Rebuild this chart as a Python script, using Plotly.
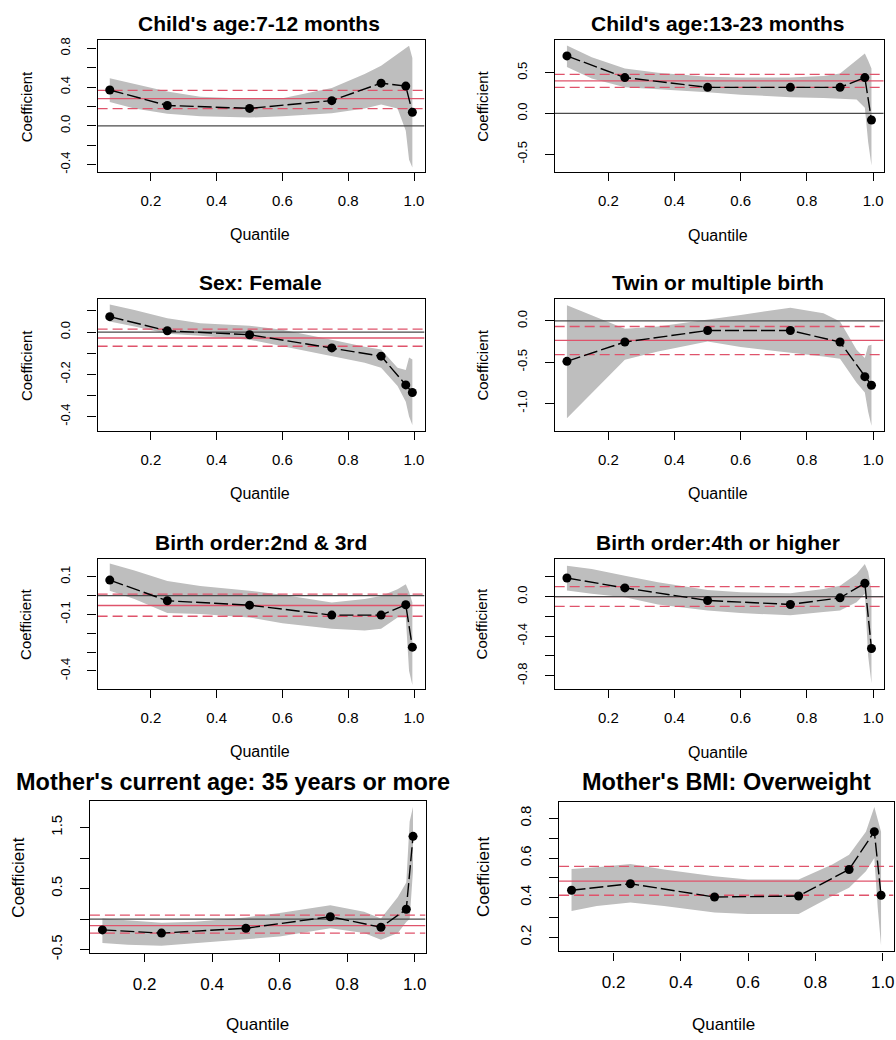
import plotly.graph_objects as go

W, H = 896, 1040
FONT = "Liberation Sans, Arial, sans-serif"

# ---------------- data ----------------
TAUS = [0.075, 0.25, 0.5, 0.75, 0.9, 0.975, 0.995]
BAND_TAUS = [0.075, 0.15, 0.25, 0.35, 0.5, 0.6, 0.75, 0.85, 0.9, 0.95, 0.975, 0.985, 0.995]

TITLES = [
    "Child's age:7-12 months",
    "Child's age:13-23 months",
    "Sex: Female",
    "Twin or multiple birth",
    "Birth order:2nd & 3rd",
    "Birth order:4th or higher",
    "Mother's current age: 35 years or more",
    "Mother's BMI: Overweight",
]

coef_age_7_12 = [0.37, 0.21, 0.18, 0.26, 0.44, 0.41, 0.14]
lo_age_7_12 = [0.245, 0.18, 0.125, 0.10, 0.085, 0.10, 0.13, 0.18, 0.22, 0.18, -0.05, -0.35, -0.43]
hi_age_7_12 = [0.49, 0.43, 0.355, 0.30, 0.28, 0.285, 0.39, 0.535, 0.62, 0.74, 0.80, 0.825, 0.70]
ols_age_7_12 = [0.28, 0.177, 0.365]

coef_age_13_23 = [0.706, 0.44, 0.32, 0.32, 0.32, 0.44, -0.08]
lo_age_13_23 = [0.57, 0.43, 0.32, 0.30, 0.26, 0.23, 0.20, 0.19, 0.18, 0.17, 0.07, -0.35, -0.64]
hi_age_13_23 = [0.835, 0.69, 0.55, 0.50, 0.45, 0.44, 0.44, 0.46, 0.49, 0.65, 0.735, 0.65, 0.55]
ols_age_13_23 = [0.40, 0.32, 0.48]

coef_female = [0.073, 0.006, -0.0125, -0.075, -0.114, -0.25, -0.286]
lo_female = [0.05, 0.027, -0.008, -0.017, -0.036, -0.07, -0.114, -0.145, -0.169, -0.255, -0.33, -0.40, -0.44]
hi_female = [0.13, 0.105, 0.066, 0.042, 0.03, 0.011, -0.036, -0.07, -0.083, -0.169, -0.18, -0.12, -0.13]
ols_female = [-0.028, -0.067, 0.014]

coef_twin = [-0.49, -0.256, -0.116, -0.116, -0.256, -0.676, -0.78]
lo_twin = [-1.18, -0.87, -0.47, -0.37, -0.248, -0.316, -0.388, -0.43, -0.46, -0.748, -0.868, -1.10, -1.27]
hi_twin = [0.19, 0.07, -0.096, -0.068, 0.012, 0.072, 0.16, 0.092, -0.008, -0.348, -0.448, -0.30, -0.29]
ols_twin = [-0.236, -0.408, -0.068]

coef_bo_2_3 = [0.082, -0.028, -0.051, -0.104, -0.104, -0.049, -0.274]
lo_bo_2_3 = [0.025, -0.019, -0.093, -0.098, -0.116, -0.147, -0.177, -0.186, -0.177, -0.116, -0.116, -0.40, -0.475]
hi_bo_2_3 = [0.17, 0.133, 0.077, 0.051, 0.025, 0.004, -0.037, -0.019, -0.002, 0.033, 0.06, 0.02, -0.037]
ols_bo_2_3 = [-0.053, -0.11, 0.007]

coef_bo_4 = [0.187, 0.087, -0.04, -0.08, -0.013, 0.134, -0.525]
lo_bo_4 = [0.06, 0.027, -0.007, -0.08, -0.14, -0.167, -0.19, -0.157, -0.14, -0.057, 0.027, -0.60, -0.876]
hi_bo_4 = [0.31, 0.277, 0.21, 0.144, 0.067, 0.043, 0.033, 0.077, 0.11, 0.227, 0.328, 0.25, 0.06]
ols_bo_4 = [0.0, -0.10, 0.10]

coef_mage_35 = [-0.177, -0.23, -0.15, 0.038, -0.134, 0.16, 1.355]
lo_mage_35 = [-0.39, -0.42, -0.435, -0.39, -0.33, -0.285, -0.15, -0.23, -0.34, -0.23, -0.05, 0.0, 0.80]
hi_mage_35 = [0.01, -0.016, -0.06, -0.043, 0.027, 0.10, 0.226, 0.118, 0.01, 0.36, 0.60, 1.60, 1.84]
ols_mage_35 = [-0.108, -0.23, 0.065]

coef_bmi_ow = [0.437, 0.47, 0.403, 0.408, 0.542, 0.733, 0.412]
lo_bmi_ow = [0.333, 0.358, 0.375, 0.358, 0.325, 0.317, 0.317, 0.408, 0.45, 0.533, 0.60, 0.35, 0.158]
hi_bmi_ow = [0.545, 0.553, 0.57, 0.542, 0.508, 0.492, 0.492, 0.567, 0.617, 0.733, 0.858, 0.80, 0.733]
ols_bmi_ow = [0.483, 0.412, 0.558]

COEFS = [coef_age_7_12, coef_age_13_23, coef_female, coef_twin, coef_bo_2_3, coef_bo_4, coef_mage_35, coef_bmi_ow]
LOWS = [lo_age_7_12, lo_age_13_23, lo_female, lo_twin, lo_bo_2_3, lo_bo_4, lo_mage_35, lo_bmi_ow]
HIGHS = [hi_age_7_12, hi_age_13_23, hi_female, hi_twin, hi_bo_2_3, hi_bo_4, hi_mage_35, hi_bmi_ow]
OLS = [ols_age_7_12, ols_age_13_23, ols_female, ols_twin, ols_bo_2_3, ols_bo_4, ols_mage_35, ols_bmi_ow]

X_TICKS = [0.2, 0.4, 0.6, 0.8, 1.0]
X_TICK_LABELS = ["0.2", "0.4", "0.6", "0.8", "1.0"]
X_RANGE = [0.038, 1.032]

Y_RANGES = [[-0.48, 0.882], [-0.723, 0.897], [-0.469, 0.156], [-1.336, 0.264],
            [-0.498, 0.196], [-0.937, 0.383], [-0.557, 1.93], [0.128, 0.883]]
Y_TICKS = [
    [-0.4, -0.2, 0.0, 0.2, 0.4, 0.6, 0.8],
    [-0.5, 0.0, 0.5],
    [-0.4, -0.3, -0.2, -0.1, 0.0, 0.1],
    [-1.0, -0.5, 0.0],
    [-0.4, -0.3, -0.2, -0.1, 0.0, 0.1],
    [-0.8, -0.6, -0.4, -0.2, 0.0, 0.2],
    [-0.5, 0.0, 0.5, 1.0, 1.5],
    [0.2, 0.3, 0.4, 0.5, 0.6, 0.7, 0.8],
]
Y_TICK_LABELS = [
    ["-0.4", "", "0.0", "", "0.4", "", "0.8"],
    ["-0.5", "0.0", "0.5"],
    ["-0.4", "", "-0.2", "", "0.0", ""],
    ["-1.0", "-0.5", "0.0"],
    ["-0.4", "", "", "-0.1", "", "0.1"],
    ["-0.8", "", "-0.4", "", "0.0", ""],
    ["-0.5", "", "0.5", "", "1.5"],
    ["0.2", "", "0.4", "", "0.6", "", "0.8"],
]

# ---------------- layout geometry (pixels) ----------------
BOXES = [  # left, right, top, bottom
    (97.7, 425, 37.7, 171),
    (555.3, 884.7, 37.7, 171),
    (97.7, 425, 299, 432.3),
    (555.3, 884.7, 299, 432.3),
    (97.7, 425, 561, 693),
    (555.3, 884.7, 561, 693),
    (90, 426, 806, 959.3),
    (559.7, 894.5, 806.7, 957.7),
]
TITLE_POS = [(259, 20.7), (718.7, 20.7), (261, 282.7), (718.7, 282.7),
             (261, 544.5), (718.7, 544.5), (233, 787), (727, 787)]
XLAB_POS = [(260, 233.3), (719, 234.3), (260, 495), (719, 495),
            (260, 756), (719, 756.7), (258, 1031.7), (724.7, 1031.7)]
YLAB_X = [26, 483, 26, 483, 26, 483, 18.5, 484.7]

BAND_COLOR = "#BEBEBE"
RED = "#DF536B"

fig = go.Figure()
annotations = []

for i in range(8):
    xa = "x" if i == 0 else f"x{i+1}"
    ya = "y" if i == 0 else f"y{i+1}"
    big = i >= 6
    l, r, t, b = BOXES[i]

    # band
    fig.add_trace(go.Scatter(
        x=BAND_TAUS + BAND_TAUS[::-1],
        y=HIGHS[i] + LOWS[i][::-1],
        fill="toself", fillcolor=BAND_COLOR, line=dict(width=0),
        mode="lines", xaxis=xa, yaxis=ya, showlegend=False, hoverinfo="skip"))
    # OLS estimate and CI
    est, clo, chi = OLS[i]
    fig.add_trace(go.Scatter(x=X_RANGE, y=[est, est], mode="lines",
                             line=dict(color=RED, width=1.3), xaxis=xa, yaxis=ya,
                             showlegend=False, hoverinfo="skip"))
    for v in (clo, chi):
        fig.add_trace(go.Scatter(x=X_RANGE, y=[v, v], mode="lines",
                                 line=dict(color=RED, width=1.3, dash="10px,5px"),
                                 xaxis=xa, yaxis=ya, showlegend=False, hoverinfo="skip"))
    # zero line
    fig.add_trace(go.Scatter(x=X_RANGE, y=[0, 0], mode="lines",
                             line=dict(color="#4a4a4a", width=1.2), xaxis=xa, yaxis=ya,
                             showlegend=False, hoverinfo="skip"))
    # quantile coefficients
    fig.add_trace(go.Scatter(x=TAUS, y=COEFS[i], mode="lines+markers",
                             line=dict(color="black", width=1.4, dash="14px,4px"),
                             marker=dict(color="black", size=9),
                             xaxis=xa, yaxis=ya, showlegend=False))

    common = dict(showline=True, mirror=True, linecolor="black", linewidth=1.2,
                  ticks="outside", tickcolor="black", tickwidth=1.2,
                  showgrid=False, zeroline=False)
    fig.layout[("xaxis" if i == 0 else f"xaxis{i+1}")] = dict(
        domain=[l / W, r / W], anchor=ya, range=X_RANGE,
        tickvals=X_TICKS, ticktext=X_TICK_LABELS, ticklen=8,
        ticklabelstandoff=7,
        tickfont=dict(family=FONT, size=17 if big else 15, color="black"), **common)
    fig.layout[("yaxis" if i == 0 else f"yaxis{i+1}")] = dict(
        domain=[1 - b / H, 1 - t / H], anchor=xa, range=Y_RANGES[i],
        tickvals=Y_TICKS[i], ticktext=Y_TICK_LABELS[i], ticklen=9,
        tickangle=-90, ticklabelstandoff=12,
        tickfont=dict(family=FONT, size=15 if big else 13, color="black"), **common)

    tx, ty = TITLE_POS[i]
    annotations.append(dict(text=f"<b>{TITLES[i]}</b>", x=tx / W, y=1 - ty / H,
                            xref="paper", yref="paper", xanchor="center", yanchor="middle",
                            showarrow=False,
                            font=dict(family=FONT, size=23.5 if big else 21, color="black")))
    qx, qy = XLAB_POS[i]
    annotations.append(dict(text="Quantile", x=qx / W, y=1 - qy / H,
                            xref="paper", yref="paper", xanchor="center", yanchor="middle",
                            showarrow=False,
                            font=dict(family=FONT, size=17 if big else 16, color="black")))
    annotations.append(dict(text="Coefficient", x=YLAB_X[i] / W, y=1 - (t + b) / 2 / H,
                            xref="paper", yref="paper", xanchor="center", yanchor="middle",
                            textangle=-90, showarrow=False,
                            font=dict(family=FONT, size=17 if big else 15, color="black")))

fig.update_layout(width=W, height=H, autosize=False,
                  margin=dict(l=0, r=0, t=0, b=0),
                  paper_bgcolor="white", plot_bgcolor="white",
                  annotations=annotations, showlegend=False)

fig.write_html("out.html")
